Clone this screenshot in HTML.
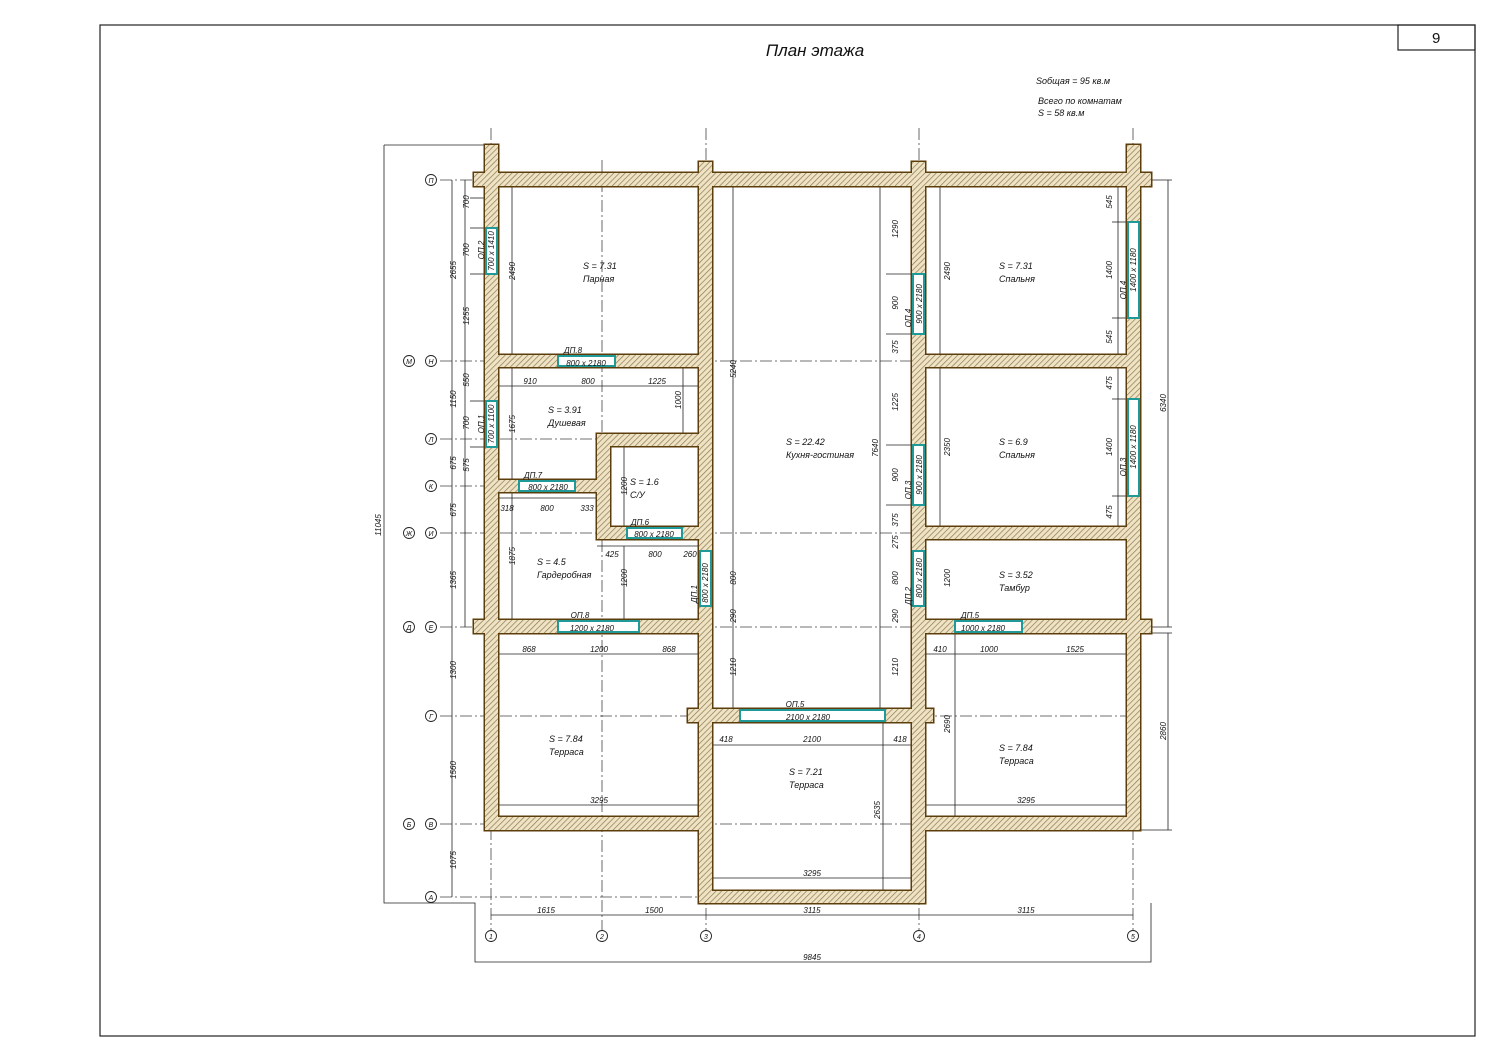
<!DOCTYPE html>
<html><head><meta charset="utf-8"><style>
html,body{margin:0;padding:0;background:#fff}
svg{display:block}
text{font-family:"Liberation Sans Narrow","Liberation Sans",sans-serif;font-style:italic;fill:#111}
.t{font-size:9px}
.s{font-size:8px}
</style></head><body>
<svg width="1500" height="1061" viewBox="0 0 1500 1061" xmlns="http://www.w3.org/2000/svg">
<defs>
<pattern id="h" width="4" height="4" patternUnits="userSpaceOnUse" patternTransform="rotate(45)">
<rect width="4" height="4" fill="#efe3c4"/><line x1="0" y1="0" x2="0" y2="4" stroke="#8a7a55" stroke-width="1.4"/>
</pattern>
</defs>
<rect x="100" y="25" width="1375" height="1011" fill="none" stroke="#222" stroke-width="1.2"/>
<rect x="1398" y="25" width="77" height="25" fill="none" stroke="#222" stroke-width="1.2"/>
<text x="1432" y="43" style="font-style:normal;font-size:15px">9</text>
<text x="815" y="56" text-anchor="middle" style="font-size:17px">План этажа</text>
<text x="1036" y="84" class="t">Sобщая   =  95 кв.м</text>
<text x="1038" y="104" class="t">Всего по комнатам</text>
<text x="1038" y="116" class="t">S   = 58 кв.м</text>

<!-- axis lines -->
<g stroke="#444" stroke-width="0.8" stroke-dasharray="12,3,2,3" fill="none">
<line x1="491" y1="128" x2="491" y2="930"/><line x1="602" y1="160" x2="602" y2="930"/>
<line x1="706" y1="128" x2="706" y2="930"/><line x1="919" y1="128" x2="919" y2="930"/>
<line x1="1133" y1="128" x2="1133" y2="930"/>
<line x1="440" y1="180" x2="1140" y2="180"/><line x1="440" y1="361" x2="1140" y2="361"/>
<line x1="440" y1="439" x2="710" y2="439"/><line x1="440" y1="486" x2="600" y2="486"/>
<line x1="440" y1="533" x2="1140" y2="533"/><line x1="440" y1="627" x2="1140" y2="627"/>
<line x1="440" y1="716" x2="1140" y2="716"/><line x1="440" y1="824" x2="1140" y2="824"/>
<line x1="440" y1="897" x2="706" y2="897"/>
</g>

<!-- dimension lines -->
<g stroke="#222" stroke-width="0.8" fill="none">
<line x1="452" y1="180" x2="452" y2="897"/><line x1="465" y1="180" x2="465" y2="627"/>
<polyline points="384,145 384,903 475,903 475,962 1151,962 1151,903"/>
<line x1="384" y1="145" x2="485" y2="145"/>
<line x1="491" y1="915" x2="1133" y2="915"/>
<line x1="1168" y1="180" x2="1168" y2="627"/><line x1="1168" y1="633" x2="1168" y2="830"/>
<line x1="1140" y1="180" x2="1172" y2="180"/><line x1="1140" y1="627" x2="1172" y2="627"/><line x1="1140" y1="633" x2="1172" y2="633"/><line x1="1140" y1="830" x2="1172" y2="830"/>
<line x1="512" y1="187" x2="512" y2="355"/><line x1="940" y1="187" x2="940" y2="355"/>
<line x1="940" y1="367" x2="940" y2="527"/>
<line x1="1118" y1="187" x2="1118" y2="355"/><line x1="1118" y1="367" x2="1118" y2="527"/>
<line x1="733" y1="187" x2="733" y2="709"/><line x1="880" y1="187" x2="880" y2="709"/>
<line x1="498" y1="386" x2="698" y2="386"/><line x1="683" y1="367" x2="683" y2="434"/>
<line x1="512" y1="367" x2="512" y2="480"/>
<line x1="498" y1="498" x2="597" y2="498"/><line x1="512" y1="492" x2="512" y2="620"/>
<line x1="597" y1="546" x2="699" y2="546"/><line x1="624" y1="446" x2="624" y2="527"/>
<line x1="624" y1="546" x2="624" y2="620"/>
<line x1="498" y1="654" x2="698" y2="654"/><line x1="925" y1="654" x2="1127" y2="654"/>
<line x1="955" y1="633" x2="955" y2="817"/>
<line x1="712" y1="745" x2="912" y2="745"/><line x1="883" y1="722" x2="883" y2="891"/>
<line x1="485" y1="805" x2="698" y2="805"/><line x1="925" y1="805" x2="1140" y2="805"/>
<line x1="699" y1="878" x2="925" y2="878"/>
<line x1="470" y1="198" x2="485" y2="198"/><line x1="470" y1="228" x2="485" y2="228"/><line x1="470" y1="274" x2="485" y2="274"/>
<line x1="470" y1="401" x2="485" y2="401"/><line x1="470" y1="447" x2="485" y2="447"/>
<line x1="886" y1="274" x2="912" y2="274"/><line x1="886" y1="334" x2="912" y2="334"/><line x1="886" y1="445" x2="912" y2="445"/><line x1="886" y1="505" x2="912" y2="505"/>
<line x1="1112" y1="222" x2="1127" y2="222"/><line x1="1112" y1="318" x2="1127" y2="318"/><line x1="1112" y1="399" x2="1127" y2="399"/><line x1="1112" y1="496" x2="1127" y2="496"/>
</g>

<!-- walls: outlines then fills -->
<g fill="none" stroke="#5c3d0c" stroke-width="3">
<rect x="474" y="173" width="677" height="13"/><rect x="485" y="145" width="13" height="685"/>
<rect x="699" y="162" width="13" height="741"/><rect x="912" y="162" width="13" height="741"/>
<rect x="1127" y="145" width="13" height="685"/>
<rect x="485" y="355" width="227" height="12"/><rect x="912" y="355" width="228" height="12"/>
<rect x="597" y="434" width="115" height="12"/><rect x="597" y="434" width="13" height="105"/>
<rect x="485" y="480" width="125" height="12"/><rect x="597" y="527" width="115" height="12"/>
<rect x="912" y="527" width="228" height="12"/>
<rect x="474" y="620" width="238" height="13"/><rect x="912" y="620" width="239" height="13"/>
<rect x="688" y="709" width="245" height="13"/>
<rect x="485" y="817" width="227" height="13"/><rect x="912" y="817" width="228" height="13"/>
<rect x="699" y="891" width="226" height="12"/>
</g>
<g fill="url(#h)">
<rect x="474" y="173" width="677" height="13"/><rect x="485" y="145" width="13" height="685"/>
<rect x="699" y="162" width="13" height="741"/><rect x="912" y="162" width="13" height="741"/>
<rect x="1127" y="145" width="13" height="685"/>
<rect x="485" y="355" width="227" height="12"/><rect x="912" y="355" width="228" height="12"/>
<rect x="597" y="434" width="115" height="12"/><rect x="597" y="434" width="13" height="105"/>
<rect x="485" y="480" width="125" height="12"/><rect x="597" y="527" width="115" height="12"/>
<rect x="912" y="527" width="228" height="12"/>
<rect x="474" y="620" width="238" height="13"/><rect x="912" y="620" width="239" height="13"/>
<rect x="688" y="709" width="245" height="13"/>
<rect x="485" y="817" width="227" height="13"/><rect x="912" y="817" width="228" height="13"/>
<rect x="699" y="891" width="226" height="12"/>
</g>

<!-- windows/doors -->
<g fill="#fff" stroke="#1f9a98" stroke-width="2">
<rect x="486" y="228" width="11" height="46"/><rect x="558" y="356" width="57" height="10"/>
<rect x="486" y="401" width="11" height="46"/><rect x="519" y="481" width="56" height="10"/>
<rect x="627" y="528" width="55" height="10"/><rect x="700" y="551" width="11" height="55"/>
<rect x="558" y="621" width="81" height="11"/>
<rect x="913" y="274" width="11" height="60"/><rect x="913" y="445" width="11" height="60"/>
<rect x="913" y="551" width="11" height="55"/><rect x="955" y="621" width="67" height="11"/>
<rect x="1128" y="222" width="11" height="96"/><rect x="1128" y="399" width="11" height="97"/>
<rect x="740" y="710" width="145" height="11"/>
</g>

<!-- axis markers -->
<g fill="#fff" stroke="#222" stroke-width="0.9">
<circle cx="491" cy="936" r="5.5"/><circle cx="602" cy="936" r="5.5"/><circle cx="706" cy="936" r="5.5"/><circle cx="919" cy="936" r="5.5"/><circle cx="1133" cy="936" r="5.5"/>
<circle cx="431" cy="180" r="5.5"/><circle cx="431" cy="361" r="5.5"/><circle cx="409" cy="361" r="5.5"/>
<circle cx="431" cy="439" r="5.5"/><circle cx="431" cy="486" r="5.5"/><circle cx="431" cy="533" r="5.5"/><circle cx="409" cy="533" r="5.5"/>
<circle cx="431" cy="627" r="5.5"/><circle cx="409" cy="627" r="5.5"/><circle cx="431" cy="716" r="5.5"/>
<circle cx="431" cy="824" r="5.5"/><circle cx="409" cy="824" r="5.5"/><circle cx="431" cy="897" r="5.5"/>
</g>
<g class="s" text-anchor="middle" style="font-size:7px">
<text x="491" y="939">1</text><text x="602" y="939">2</text><text x="706" y="939">3</text><text x="919" y="939">4</text><text x="1133" y="939">5</text>
<text x="431" y="183">П</text><text x="431" y="364">Н</text><text x="409" y="364">М</text><text x="431" y="442">Л</text><text x="431" y="489">К</text>
<text x="431" y="536">И</text><text x="409" y="536">Ж</text><text x="431" y="630">Е</text><text x="409" y="630">Д</text><text x="431" y="719">Г</text>
<text x="431" y="827">В</text><text x="409" y="827">Б</text><text x="431" y="900">А</text>
</g>

<!-- room labels -->
<g class="t">
<text x="583" y="269">S   =  7.31</text><text x="583" y="282">Парная</text>
<text x="999" y="269">S   =  7.31</text><text x="999" y="282">Спальня</text>
<text x="548" y="413">S   =  3.91</text><text x="548" y="426">Душевая</text>
<text x="999" y="445">S   =  6.9</text><text x="999" y="458">Спальня</text>
<text x="786" y="445">S   =  22.42</text><text x="786" y="458">Кухня-гостиная</text>
<text x="630" y="485">S   =  1.6</text><text x="630" y="498">С/У</text>
<text x="537" y="565">S   =  4.5</text><text x="537" y="578">Гардеробная</text>
<text x="999" y="578">S   =  3.52</text><text x="999" y="591">Тамбур</text>
<text x="549" y="742">S   =  7.84</text><text x="549" y="755">Терраса</text>
<text x="999" y="751">S   =  7.84</text><text x="999" y="764">Терраса</text>
<text x="789" y="775">S   =  7.21</text><text x="789" y="788">Терраса</text>
</g>

<!-- horizontal dimension texts -->
<g class="s" text-anchor="middle">
<text x="573" y="353">ДП.8</text><text x="586" y="366">800 x 2180</text>
<text x="530" y="384">910</text><text x="588" y="384">800</text><text x="657" y="384">1225</text>
<text x="533" y="478">ДП.7</text><text x="548" y="490">800 x 2180</text>
<text x="507" y="511">318</text><text x="547" y="511">800</text><text x="587" y="511">333</text>
<text x="640" y="525">ДП.6</text><text x="654" y="537">800 x 2180</text>
<text x="612" y="557">425</text><text x="655" y="557">800</text><text x="690" y="557">260</text>
<text x="580" y="618">ОП.8</text><text x="592" y="631">1200 x 2180</text>
<text x="529" y="652">868</text><text x="599" y="652">1200</text><text x="669" y="652">868</text>
<text x="970" y="618">ДП.5</text><text x="983" y="631">1000 x 2180</text>
<text x="940" y="652">410</text><text x="989" y="652">1000</text><text x="1075" y="652">1525</text>
<text x="795" y="707">ОП.5</text><text x="808" y="720">2100 x 2180</text>
<text x="726" y="742">418</text><text x="812" y="742">2100</text><text x="900" y="742">418</text>
<text x="599" y="803">3295</text><text x="1026" y="803">3295</text><text x="812" y="876">3295</text>
<text x="546" y="913">1615</text><text x="654" y="913">1500</text><text x="812" y="913">3115</text><text x="1026" y="913">3115</text>
<text x="812" y="960">9845</text>
</g>

<!-- vertical dimension texts -->
<g class="s" text-anchor="middle">
<text transform="translate(469,202) rotate(-90)">700</text>
<text transform="translate(469,250) rotate(-90)">700</text>
<text transform="translate(469,316) rotate(-90)">1255</text>
<text transform="translate(456,270) rotate(-90)">2655</text>
<text transform="translate(456,399) rotate(-90)">1150</text>
<text transform="translate(469,380) rotate(-90)">550</text>
<text transform="translate(469,423) rotate(-90)">700</text>
<text transform="translate(469,465) rotate(-90)">575</text>
<text transform="translate(456,463) rotate(-90)">675</text>
<text transform="translate(456,510) rotate(-90)">675</text>
<text transform="translate(456,580) rotate(-90)">1365</text>
<text transform="translate(456,670) rotate(-90)">1300</text>
<text transform="translate(456,770) rotate(-90)">1560</text>
<text transform="translate(456,860) rotate(-90)">1075</text>
<text transform="translate(381,525) rotate(-90)">11045</text>
<text transform="translate(484,250) rotate(-90)">ОП.2</text>
<text transform="translate(494,251) rotate(-90)">700 x 1410</text>
<text transform="translate(484,424) rotate(-90)">ОП.1</text>
<text transform="translate(494,424) rotate(-90)">700 x 1100</text>
<text transform="translate(515,271) rotate(-90)">2490</text>
<text transform="translate(515,424) rotate(-90)">1675</text>
<text transform="translate(515,556) rotate(-90)">1875</text>
<text transform="translate(681,400) rotate(-90)">1000</text>
<text transform="translate(627,486) rotate(-90)">1200</text>
<text transform="translate(627,578) rotate(-90)">1200</text>
<text transform="translate(697,594) rotate(-90)">ДП.1</text>
<text transform="translate(708,583) rotate(-90)">800 x 2180</text>
<text transform="translate(736,369) rotate(-90)">5240</text>
<text transform="translate(736,578) rotate(-90)">800</text>
<text transform="translate(736,616) rotate(-90)">290</text>
<text transform="translate(736,667) rotate(-90)">1210</text>
<text transform="translate(878,448) rotate(-90)">7640</text>
<text transform="translate(898,229) rotate(-90)">1290</text>
<text transform="translate(898,303) rotate(-90)">900</text>
<text transform="translate(898,347) rotate(-90)">375</text>
<text transform="translate(898,402) rotate(-90)">1225</text>
<text transform="translate(898,475) rotate(-90)">900</text>
<text transform="translate(898,520) rotate(-90)">375</text>
<text transform="translate(898,542) rotate(-90)">275</text>
<text transform="translate(898,578) rotate(-90)">800</text>
<text transform="translate(898,616) rotate(-90)">290</text>
<text transform="translate(898,667) rotate(-90)">1210</text>
<text transform="translate(911,318) rotate(-90)">ОП.4</text>
<text transform="translate(922,304) rotate(-90)">900 x 2180</text>
<text transform="translate(911,490) rotate(-90)">ОП.3</text>
<text transform="translate(922,475) rotate(-90)">900 x 2180</text>
<text transform="translate(911,596) rotate(-90)">ДП.2</text>
<text transform="translate(922,578) rotate(-90)">800 x 2180</text>
<text transform="translate(950,271) rotate(-90)">2490</text>
<text transform="translate(950,447) rotate(-90)">2350</text>
<text transform="translate(950,578) rotate(-90)">1200</text>
<text transform="translate(950,724) rotate(-90)">2690</text>
<text transform="translate(880,810) rotate(-90)">2635</text>
<text transform="translate(1112,202) rotate(-90)">545</text>
<text transform="translate(1112,270) rotate(-90)">1400</text>
<text transform="translate(1112,337) rotate(-90)">545</text>
<text transform="translate(1112,383) rotate(-90)">475</text>
<text transform="translate(1112,447) rotate(-90)">1400</text>
<text transform="translate(1112,512) rotate(-90)">475</text>
<text transform="translate(1126,290) rotate(-90)">ОП.4</text>
<text transform="translate(1136,270) rotate(-90)">1400 x 1180</text>
<text transform="translate(1126,467) rotate(-90)">ОП.3</text>
<text transform="translate(1136,447) rotate(-90)">1400 x 1180</text>
<text transform="translate(1166,403) rotate(-90)">6340</text>
<text transform="translate(1166,731) rotate(-90)">2860</text>
</g>
</svg>
</body></html>
